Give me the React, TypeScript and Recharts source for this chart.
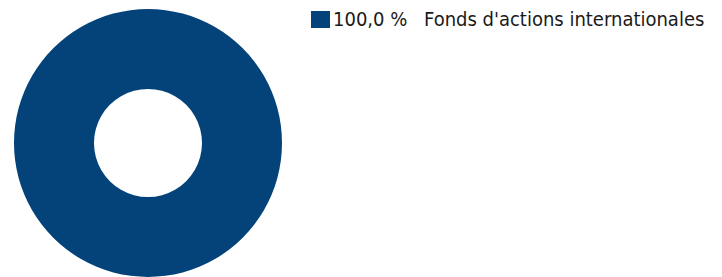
import React from "react";
import { PieChart, Pie, Cell } from "recharts";

const categories = ["Fonds d'actions internationales"];
const shares = [100.0];
const colors = ["#03437A"];

const data = categories.map((name, i) => ({ name, value: shares[i] }));

const fmt = (v: number) => v.toFixed(1).replace(".", ",") + " %";

const App: React.FC = () => {
  return (
    <div style={styles.wrapper}>
      <PieChart width={722} height={277} margin={{ top: 0, right: 0, bottom: 0, left: 0 }}>
        <Pie
          data={data}
          dataKey="value"
          nameKey="name"
          cx={148}
          cy={143}
          outerRadius={134}
          innerRadius={54}
          startAngle={90}
          endAngle={-270}
          stroke="none"
          isAnimationActive={false}
        >
          {data.map((d, i) => (
            <Cell key={d.name} fill={colors[i % colors.length]} />
          ))}
        </Pie>
      </PieChart>
      {/* legend sits top right, next to the donut */}
      <div style={styles.legend}>
        {data.map((d, i) => (
          <div key={d.name} style={styles.legendRow}>
            <span style={{ ...styles.swatch, backgroundColor: colors[i % colors.length] }} />
            <span style={styles.pct}>{fmt(d.value)}</span>
            <span>{d.name}</span>
          </div>
        ))}
      </div>
    </div>
  );
};

const styles: Record<string, React.CSSProperties> = {
  wrapper: {
    position: "absolute",
    left: 0,
    top: 0,
    width: 722,
    height: 277,
    background: "white",
  },
  legend: {
    position: "absolute",
    left: 311,
    top: 7,
    fontFamily: "'DejaVu Sans Condensed', sans-serif",
    fontSize: 20,
    color: "#1a1a1a",
  },
  legendRow: {
    display: "flex",
    alignItems: "center",
    whiteSpace: "nowrap",
  },
  swatch: {
    display: "inline-block",
    width: 19,
    height: 17,
    marginRight: 3,
  },
  pct: {
    display: "inline-block",
    width: 91,
  },
};

export default App;
